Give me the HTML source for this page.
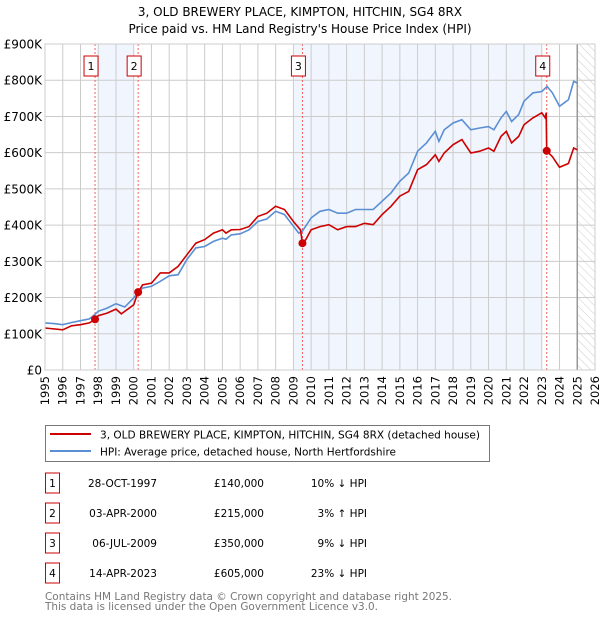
<!DOCTYPE html>
<html><head><meta charset="utf-8"><style>
body{margin:0;background:#fff;font-family:"DejaVu Sans","Liberation Sans",sans-serif;}
svg text{font-family:"DejaVu Sans","Liberation Sans",sans-serif;}
</style></head><body>
<svg id="c" width="600" height="620" xmlns="http://www.w3.org/2000/svg">
<defs><pattern id="hatch" width="6" height="6" patternUnits="userSpaceOnUse" patternTransform="rotate(-45)"><line x1="0" y1="0" x2="0" y2="6" stroke="#ccc" stroke-width="1"/></pattern></defs>
<text x="300" y="16" text-anchor="middle" font-size="12">3, OLD BREWERY PLACE, KIMPTON, HITCHIN, SG4 8RX</text>
<text x="300" y="33" text-anchor="middle" font-size="12">Price paid vs. HM Land Registry's House Price Index (HPI)</text>
<g id="plot"></g>
<g>
<rect x="45.5" y="425.5" width="444" height="36" fill="#fff" stroke="#777"/>
<line x1="50" y1="434" x2="91" y2="434" stroke="#cc0000" stroke-width="2"/>
<text x="100" y="438.5" font-size="10.5" textLength="380" lengthAdjust="spacingAndGlyphs">3, OLD BREWERY PLACE, KIMPTON, HITCHIN, SG4 8RX (detached house)</text>
<line x1="50" y1="451" x2="91" y2="451" stroke="#5b8fd4" stroke-width="2"/>
<text x="100" y="455.5" font-size="10.5" textLength="296" lengthAdjust="spacingAndGlyphs">HPI: Average price, detached house, North Hertfordshire</text>
</g>
<g id="table" font-size="10.5"></g>
<text x="45" y="600" font-size="10.5" fill="#777" textLength="407" lengthAdjust="spacingAndGlyphs">Contains HM Land Registry data © Crown copyright and database right 2025.</text>
<text x="45" y="610" font-size="10.5" fill="#777" textLength="333" lengthAdjust="spacingAndGlyphs">This data is licensed under the Open Government Licence v3.0.</text>
</svg>
<script>
const hpiYears=[1995,1995.5,1996,1996.5,1997,1997.5,1997.8,1998,1998.5,1999,1999.5,2000,2000.3,2000.5,2001,2001.5,2002,2002.5,2003,2003.5,2004,2004.5,2005,2005.2,2005.5,2006,2006.5,2007,2007.5,2008,2008.5,2009,2009.3,2009.5,2010,2010.5,2011,2011.5,2012,2012.5,2013,2013.5,2014,2014.5,2015,2015.5,2016,2016.5,2017,2017.2,2017.5,2018,2018.5,2019,2019.5,2020,2020.3,2020.7,2021,2021.3,2021.7,2022,2022.5,2023,2023.3,2023.6,2024,2024.5,2024.8,2025];
const hpiValues=[130,128,125,131,136,141,153,162,171,183,174,199,217,226,231,245,260,263,305,337,341,355,364,361,373,376,387,410,417,438,429,397,378,383,420,438,443,433,433,443,443,443,466,489,521,544,604,627,659,631,663,682,691,663,668,672,663,696,714,686,705,742,765,769,783,765,728,746,797,792];
const propYears=[1995,1996,1996.5,1997,1997.5,1997.82,1998,1998.5,1999,1999.3,2000,2000.25,2000.5,2001,2001.5,2002,2002.5,2003,2003.5,2004,2004.5,2005,2005.2,2005.5,2006,2006.5,2007,2007.5,2008,2008.5,2009,2009.4,2009.51,2009.7,2010,2010.5,2011,2011.5,2012,2012.5,2013,2013.5,2014,2014.5,2015,2015.5,2016,2016.5,2017,2017.2,2017.5,2018,2018.5,2019,2019.5,2020,2020.3,2020.7,2021,2021.3,2021.7,2022,2022.5,2023,2023.2,2023.25,2023.28,2023.6,2024,2024.5,2024.8,2025];
const propValues=[116,111,122,125,130,140,150,157,168,155,180,215,235,240,268,268,286,318,350,360,378,387,378,387,388,396,424,433,452,443,410,387,350,360,387,396,401,387,396,396,405,401,429,452,480,493,553,567,594,576,599,622,636,599,604,613,604,645,659,627,645,677,696,710,696,710,605,589,560,570,613,608];
const saleYears=[1997.82,2000.25,2009.51,2023.28];
const saleValues=[140,215,350,605];
const saleLabels=["1","2","3","4"];
const saleDates=["28-OCT-1997","03-APR-2000","06-JUL-2009","14-APR-2023"];
const salePrices=["£140,000","£215,000","£350,000","£605,000"];
const saleDiffs=["10% ↓ HPI","3% ↑ HPI","9% ↓ HPI","23% ↓ HPI"];
const yTicks=[0,100,200,300,400,500,600,700,800,900];
const yTickLabels=["£0","£100K","£200K","£300K","£400K","£500K","£600K","£700K","£800K","£900K"];
const xTicks=[];for(let y=1995;y<=2026;y++)xTicks.push(y);
const bands=[[1998,2000],[2009,2023]];

const X0=45,X1=595,Y0=370,Y1=44;
const xs=y=>X0+(y-1995)/(2026-1995)*(X1-X0);
const ys=v=>Y0-v/900*(Y0-Y1);
const NS="http://www.w3.org/2000/svg";
const plot=document.getElementById('plot');
function mk(tag,attrs,parent){const e=document.createElementNS(NS,tag);for(const k in attrs)e.setAttribute(k,attrs[k]);(parent||plot).appendChild(e);return e;}

bands.forEach(b=>{const r=mk('rect',{x:xs(b[0]),y:Y1,width:xs(b[1])-xs(b[0]),height:Y0-Y1,fill:'#eef3fc',opacity:0.8});

});
const h=mk('rect',{x:xs(2025),y:Y1,width:X1-xs(2025),height:Y0-Y1,fill:'url(#hatch)'});


xTicks.forEach(t=>{const l=mk('line',{x1:xs(t),x2:xs(t),y1:Y1,y2:Y0,stroke:'#ccc','stroke-width':1});


const tx=mk('text',{x:0,y:0,'font-size':11.5,'text-anchor':'end',transform:`translate(${xs(t)+4},${Y0+6}) rotate(-90)`});tx.textContent=t;

});
yTicks.forEach((t,i)=>{const l=mk('line',{x1:X0,x2:X1,y1:ys(t),y2:ys(t),stroke:'#ccc','stroke-width':1});


const tx=mk('text',{x:X0-3,y:ys(t)+4.5,'font-size':12,'text-anchor':'end'});tx.textContent=yTickLabels[i];

});
const nl=mk('line',{x1:xs(2025),x2:xs(2025),y1:Y1,y2:Y0,stroke:'#999','stroke-width':1.5});


saleYears.forEach(y=>{const l=mk('line',{x1:xs(y),x2:xs(y),y1:Y1,y2:Y0,stroke:'#f06060','stroke-width':1,'stroke-dasharray':'2,2'});

});
function path(xa,va,col,name){const d=xa.map((x,i)=>(i?'L':'M')+xs(x).toFixed(1)+','+ys(va[i]).toFixed(1)).join('');
const p=mk('path',{d:d,fill:'none',stroke:col,'stroke-width':1.6});

}
path(hpiYears,hpiValues,'#5b8fd4','hpi-line');
path(propYears,propValues,'#cc0000','property-line');
saleYears.forEach((y,i)=>{const c=mk('circle',{cx:xs(y),cy:ys(saleValues[i]),r:4,fill:'#cc0000'});


const g=mk('g',{});
const r=mk('rect',{x:xs(y)-11,y:56,width:14,height:20,fill:'#fff',stroke:'#cc0000'},g);
const t=mk('text',{x:xs(y)-4,y:70,'font-size':11,'text-anchor':'middle'},g);t.textContent=saleLabels[i];

});
const border=mk('rect',{x:X0,y:Y1,width:X1-X0,height:Y0-Y1,fill:'none',stroke:'#ccc'});



const tb=document.getElementById('table');
saleLabels.forEach((s,i)=>{const cy=483+i*30;
const g=mk('g',{},tb);


mk('rect',{x:45.5,y:cy-10,width:14,height:20,fill:'#fff',stroke:'#cc0000'},g);
const a=mk('text',{x:52.5,y:cy+4,'text-anchor':'middle'},g);a.textContent=s;
const b=mk('text',{x:157,y:cy+4,'text-anchor':'end'},g);b.textContent=saleDates[i];
const c=mk('text',{x:264,y:cy+4,'text-anchor':'end'},g);c.textContent=salePrices[i];
const d=mk('text',{x:367,y:cy+4,'text-anchor':'end'},g);d.textContent=saleDiffs[i];});
</script>
</body></html>
